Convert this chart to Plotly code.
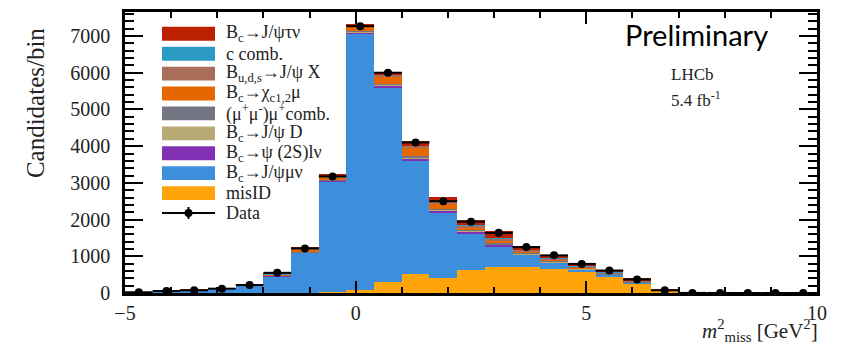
import plotly.graph_objects as go
import numpy as np

# ---------------- data ----------------
bin_centers = [-4.7, -4.1, -3.5, -2.9, -2.3, -1.7, -1.1, -0.5, 0.1, 0.7, 1.3, 1.9, 2.5,
               3.1, 3.7, 4.3, 4.9, 5.5, 6.1, 6.7, 7.3, 7.9, 8.5, 9.1, 9.7]
bin_width = 0.6

data_counts = [20, 55, 73, 118, 216, 550, 1215, 3176, 7269, 6001, 4101, 2501, 1943,
               1638, 1250, 1025, 793, 612, 370, 73, 3, 1, 0, 0, 0]

misID     = [0, 0, 0, 0, 0, 0, 5, 27, 81, 297, 513, 405, 621, 702, 712, 648, 567, 459, 270, 55, 3, 0, 0, 0, 0]
jpsimunu  = [20, 50, 90, 120, 210, 460, 1085, 3014, 6989, 5280, 3086, 1781, 998, 578, 328, 172, 72, 36, 10, 5, 0, 0, 0, 0, 0]
psi2s     = [0, 0, 0, 0, 1, 3, 8, 10, 30, 72, 72, 60, 50, 30, 20, 10, 6, 3, 2, 0, 0, 0, 0, 0, 0]
jpsiD     = [0, 0, 0, 1, 1, 3, 8, 10, 15, 20, 25, 20, 20, 20, 15, 15, 10, 8, 5, 2, 0, 0, 0, 0, 0]
comb      = [2, 3, 4, 4, 6, 10, 20, 25, 20, 30, 40, 35, 35, 40, 30, 30, 25, 20, 20, 8, 0, 0, 0, 0, 0]
chic      = [1, 2, 3, 4, 8, 25, 60, 70, 140, 200, 220, 140, 60, 50, 30, 25, 15, 10, 5, 2, 0, 0, 0, 0, 0]
bu        = [1, 2, 3, 4, 6, 15, 35, 40, 15, 40, 50, 40, 55, 60, 40, 40, 35, 30, 30, 10, 0, 0, 0, 0, 0]
ccomb     = [1, 1, 1, 1, 2, 3, 5, 5, 5, 8, 8, 8, 8, 10, 8, 8, 8, 6, 6, 3, 0, 0, 0, 0, 0]
taunu     = [0, 0, 1, 1, 1, 4, 10, 20, 45, 60, 135, 120, 130, 190, 100, 96, 72, 58, 48, 15, 0, 0, 0, 0, 0]

# stack order bottom -> top
components = [
    ("misID", misID, "#FFA50A"),
    ("B<sub>c</sub>→J/ψμν", jpsimunu, "#3D8FDB"),
    ("B<sub>c</sub>→ψ (2S)lν", psi2s, "#8230B4"),
    ("B<sub>c</sub>→J/ψ D", jpsiD, "#B8AA74"),
    ("(μ<sup>+</sup>μ<sup>-</sup>)μ<sup>+</sup>comb.", comb, "#737682"),
    ("B<sub>c</sub>→χ<sub>c1,2</sub>μ", chic, "#E66600"),
    ("B<sub>u,d,s</sub>→J/ψ X", bu, "#A86E5A"),
    ("c comb.", ccomb, "#2B9AC4"),
    ("B<sub>c</sub>→J/ψτν", taunu, "#BB2000"),
]

x_range = [-5, 10]
y_range = [0, 7655]

SERIF = "Liberation Serif, Times New Roman, serif"

fig = go.Figure()
for name, vals, col in components:
    fig.add_trace(go.Bar(x=bin_centers, y=vals, width=bin_width, name=name,
                         marker=dict(color=col, line=dict(width=0)),
                         showlegend=False, hoverinfo="skip"))

fig.add_trace(go.Scatter(
    x=bin_centers, y=data_counts, mode="markers", name="Data", showlegend=False,
    marker=dict(color="black", size=8),
    error_x=dict(type="constant", value=bin_width / 2, width=0, thickness=2, color="black"),
    error_y=dict(type="data", array=list(np.sqrt(data_counts)), width=0, thickness=2, color="black"),
))

# page has an 8px body margin; figure coordinates = page coordinates - 8
OFF = 8
W, H = 846 - OFF, 351 - OFF
Lp, Rp, Tp, Bp = 125, 817, 9, 292.7   # plot frame in page pixels
def px_x(p):
    return (p - Lp) / (Rp - Lp)
def px_y(p):
    return (Bp - p) / (Bp - Tp)

shapes = []
annotations = []

# legend (drawn in paper coordinates)
leg_y0 = 31
leg_dy = 20.1
for i, (name, vals, col) in enumerate(reversed(components)):
    yc = leg_y0 + i * leg_dy
    shapes.append(dict(type="rect", xref="paper", yref="paper",
                       x0=px_x(162), x1=px_x(215), y0=px_y(yc + 7), y1=px_y(yc - 7),
                       fillcolor=col, line=dict(width=0)))
    annotations.append(dict(text=name, xref="paper", yref="paper", x=px_x(224), y=px_y(yc),
                            xanchor="left", yanchor="middle", showarrow=False,
                            font=dict(family=SERIF, size=18, color="#222")))
yc = leg_y0 + len(components) * leg_dy
shapes.append(dict(type="line", xref="paper", yref="paper", x0=px_x(162), x1=px_x(215),
                   y0=px_y(yc), y1=px_y(yc), line=dict(color="black", width=2)))
shapes.append(dict(type="line", xref="paper", yref="paper", x0=px_x(188.5), x1=px_x(188.5),
                   y0=px_y(yc - 6), y1=px_y(yc + 6), line=dict(color="black", width=2)))
shapes.append(dict(type="circle", xref="paper", yref="paper", x0=px_x(184.5), x1=px_x(192.5),
                   y0=px_y(yc + 4), y1=px_y(yc - 4), fillcolor="black", line=dict(width=0)))
annotations.append(dict(text="Data", xref="paper", yref="paper", x=px_x(224), y=px_y(yc),
                        xanchor="left", yanchor="middle", showarrow=False,
                        font=dict(family=SERIF, size=18, color="#222")))

annotations += [
    dict(text="Preliminary", xref="paper", yref="paper", x=px_x(696), y=px_y(32),
         xanchor="center", yanchor="middle", showarrow=False,
         font=dict(family="Lato, Open Sans, sans-serif", size=29, color="black")),
    dict(text="LHCb", xref="paper", yref="paper", x=px_x(669), y=px_y(72),
         xanchor="left", yanchor="middle", showarrow=False,
         font=dict(family=SERIF, size=17, color="#222")),
    dict(text="5.4 fb<sup>-1</sup>", xref="paper", yref="paper", x=px_x(669), y=px_y(97),
         xanchor="left", yanchor="middle", showarrow=False,
         font=dict(family=SERIF, size=17, color="#222")),
    dict(text="<i>m</i><sup>2</sup><sub>miss</sub> [GeV<sup>2</sup>]", xref="paper", yref="paper",
         x=px_x(820), y=px_y(331), xanchor="right", yanchor="middle", showarrow=False,
         font=dict(family=SERIF, size=21, color="#222")),
    dict(text="Candidates/bin", xref="paper", yref="paper", x=px_x(35), y=px_y(101),
         xanchor="center", yanchor="middle", showarrow=False, textangle=-90,
         font=dict(family=SERIF, size=25, color="#222")),
]

fig.update_layout(
    width=W, height=H,
    margin=dict(l=Lp - OFF, r=W - (Rp - OFF), t=Tp - OFF, b=H - (Bp - OFF), pad=0),
    plot_bgcolor="white", paper_bgcolor="white",
    barmode="stack", bargap=0,
    shapes=shapes, annotations=annotations,
    showlegend=False,
)
fig.update_xaxes(range=x_range, tickvals=[-5, 0, 5, 10], ticktext=["−5", "0", "5", "10"],
                 ticks="inside", ticklen=12, tickwidth=2, tickcolor="black",
                 minor=dict(dtick=1, ticks="inside", ticklen=6, tickwidth=2, tickcolor="black"),
                 showline=True, linecolor="black", linewidth=2.5, mirror="allticks",
                 showgrid=False, zeroline=False,
                 tickfont=dict(family=SERIF, size=20, color="#222"))
fig.update_yaxes(range=y_range, tickvals=[0, 1000, 2000, 3000, 4000, 5000, 6000, 7000],
                 ticks="inside", ticklen=18, tickwidth=2, tickcolor="black",
                 minor=dict(dtick=200, ticks="inside", ticklen=9, tickwidth=2, tickcolor="black"),
                 showline=True, linecolor="black", linewidth=2.5, mirror="allticks",
                 showgrid=False, zeroline=False, ticklabelstandoff=8,
                 tickfont=dict(family=SERIF, size=20, color="#222"))

fig.write_html("out.html")
